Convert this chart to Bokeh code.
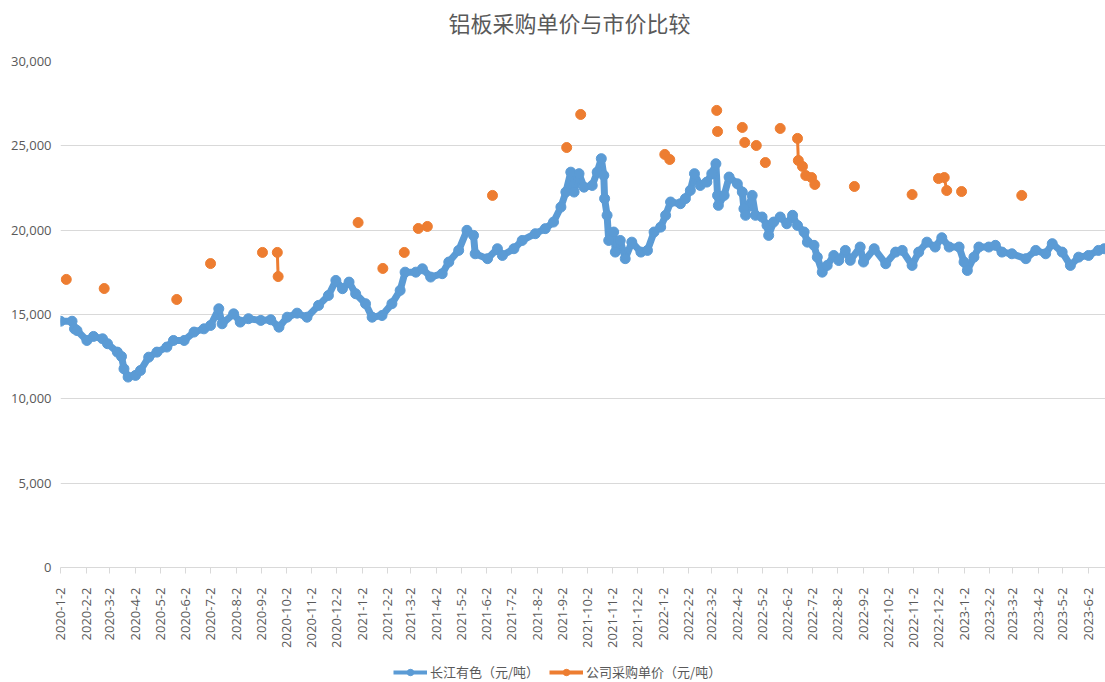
import math
import pandas as pd
from bokeh.plotting import figure
from bokeh.layouts import column
from bokeh.models import (FixedTicker, CustomJSTickFormatter, NumeralTickFormatter,
                          Legend, LegendItem, Range1d, ColumnDataSource, Label)
from bokeh.embed import file_html
from bokeh.resources import INLINE

title_text = "铝板采购单价与市价比较"
blue_name = "长江有色（元/吨）"
orange_name = "公司采购单价（元/吨）"

blue_dates = [
    "2020-01-02", "2020-01-16", "2020-01-19", "2020-01-22", "2020-02-03", "2020-02-11",
    "2020-02-22", "2020-02-28", "2020-03-11", "2020-03-16", "2020-03-19", "2020-03-24",
    "2020-04-02", "2020-04-08", "2020-04-18", "2020-04-28", "2020-05-10", "2020-05-18",
    "2020-05-31", "2020-06-12", "2020-06-24", "2020-07-02", "2020-07-12", "2020-07-16",
    "2020-07-30", "2020-08-07", "2020-08-17", "2020-09-01", "2020-09-13", "2020-09-23",
    "2020-10-03", "2020-10-15", "2020-10-27", "2020-11-10", "2020-11-22", "2020-12-01",
    "2020-12-09", "2020-12-17", "2020-12-25", "2021-01-06", "2021-01-14", "2021-01-26",
    "2021-02-07", "2021-02-17", "2021-02-23", "2021-03-08", "2021-03-16", "2021-03-26",
    "2021-04-09", "2021-04-17", "2021-04-29", "2021-05-09", "2021-05-17", "2021-05-19",
    "2021-06-03", "2021-06-15", "2021-06-21", "2021-07-05", "2021-07-15", "2021-07-31",
    "2021-08-12", "2021-08-22", "2021-08-31", "2021-09-06", "2021-09-12", "2021-09-16",
    "2021-09-22", "2021-09-28", "2021-10-08", "2021-10-14", "2021-10-19", "2021-10-22",
    "2021-10-23", "2021-10-26", "2021-10-28", "2021-11-03", "2021-11-05", "2021-11-11",
    "2021-11-17", "2021-11-25", "2021-12-06", "2021-12-14", "2021-12-22", "2021-12-30",
    "2022-01-05", "2022-01-11", "2022-01-23", "2022-01-29", "2022-02-04", "2022-02-09",
    "2022-02-16", "2022-02-24", "2022-03-02", "2022-03-07", "2022-03-09", "2022-03-10",
    "2022-03-17", "2022-03-23", "2022-04-02", "2022-04-08", "2022-04-10", "2022-04-12",
    "2022-04-20", "2022-04-24", "2022-05-02", "2022-05-08", "2022-05-10", "2022-05-16",
    "2022-05-24", "2022-06-01", "2022-06-08", "2022-06-14", "2022-06-22", "2022-06-26",
    "2022-07-04", "2022-07-08", "2022-07-14", "2022-07-20", "2022-07-28", "2022-08-03",
    "2022-08-11", "2022-08-17", "2022-08-29", "2022-09-02", "2022-09-15", "2022-09-29",
    "2022-10-11", "2022-10-19", "2022-10-31", "2022-11-08", "2022-11-18", "2022-11-28",
    "2022-12-06", "2022-12-15", "2022-12-27", "2023-01-02", "2023-01-06", "2023-01-14",
    "2023-01-20", "2023-02-01", "2023-02-09", "2023-02-17", "2023-03-01", "2023-03-18",
    "2023-03-30", "2023-04-11", "2023-04-19", "2023-05-01", "2023-05-11", "2023-05-21",
    "2023-06-02", "2023-06-14", "2023-06-21",
]
blue_values = [
    14600, 14600, 14150, 14050, 13460, 13700,
    13560, 13270, 12770, 12510, 11780, 11290,
    11390, 11680, 12470, 12770, 13070, 13460,
    13460, 13960, 14150, 14350, 15340, 14450,
    15040, 14550, 14750, 14650, 14690, 14250,
    14840, 15080, 14840, 15540, 16130, 17020,
    16530, 16920, 16230, 15640, 14840, 14940,
    15640, 16430, 17510, 17510, 17710, 17220,
    17420, 18110, 18800, 19990, 19690, 18600,
    18310, 18900, 18500, 18900, 19390, 19790,
    20090, 20480, 21370, 22260, 23440, 22260,
    23350, 22550, 22650, 23440, 24240, 23250,
    21870, 20880, 19390, 19890, 18700, 19390,
    18310, 19290, 18700, 18800, 19890, 20180,
    20880, 21670, 21570, 21870, 22360, 23350,
    22650, 22850, 23350, 23940, 22060, 21470,
    22060, 23150, 22750, 22260, 21270, 20880,
    22060, 20880, 20780, 20280, 19690, 20480,
    20780, 20380, 20880, 20280, 19890, 19290,
    19100, 18400, 17510, 17910, 18500, 18200,
    18800, 18210, 19000, 18110, 18900, 18010,
    18700, 18800, 17910, 18700, 19290, 19000,
    19550, 19000, 19000, 18110, 17610, 18400,
    19000, 19000, 19100, 18700, 18600, 18310,
    18800, 18600, 19200, 18700, 17910, 18400,
    18500, 18800, 18900,
]

orange_dates = [
    "2020-01-09", "2020-02-24", "2020-05-22", "2020-07-02", "2020-09-03", "2020-09-21",
    "2020-09-22", "2020-12-28", "2021-01-27", "2021-02-22", "2021-03-11", "2021-03-22",
    "2021-06-09", "2021-09-07", "2021-09-24", "2022-01-04", "2022-01-10", "2022-03-08",
    "2022-03-09", "2022-04-08", "2022-04-11", "2022-04-25", "2022-05-06", "2022-05-24",
    "2022-06-14", "2022-06-15", "2022-06-20", "2022-06-24", "2022-07-01", "2022-07-05",
    "2022-08-22", "2022-10-31", "2022-12-02", "2022-12-09", "2022-12-12", "2022-12-30",
    "2023-03-13",
]
orange_values = [
    17080, 16540, 15890, 18020, 18680, 18680,
    17250, 20450, 17730, 18680, 20100, 20220,
    22060, 24900, 26860, 24490, 24190, 27100,
    25850, 26090, 25200, 25020, 24010, 26030,
    25440, 24130, 23780, 23240, 23120, 22710,
    22590, 22110, 23060, 23120, 22350, 22290,
    22060,
]
# points sharing a group number were entered on consecutive rows and are joined
orange_groups = [
    0, 1, 2, 3, 4, 5,
    5, 6, 7, 8, 9, 10,
    11, 12, 13, 14, 15, 16,
    17, 18, 19, 20, 21, 22,
    23, 23, 24, 25, 26, 27,
    28, 29, 30, 31, 31, 32,
    33,
]

x_tick_labels = [
    "2020-1-2", "2020-2-2", "2020-3-2", "2020-4-2", "2020-5-2", "2020-6-2", "2020-7-2",
    "2020-8-2", "2020-9-2", "2020-10-2", "2020-11-2", "2020-12-2",
    "2021-1-2", "2021-2-2", "2021-3-2", "2021-4-2", "2021-5-2", "2021-6-2", "2021-7-2",
    "2021-8-2", "2021-9-2", "2021-10-2", "2021-11-2", "2021-12-2",
    "2022-1-2", "2022-2-2", "2022-3-2", "2022-4-2", "2022-5-2", "2022-6-2", "2022-7-2",
    "2022-8-2", "2022-9-2", "2022-10-2", "2022-11-2", "2022-12-2",
    "2023-1-2", "2023-2-2", "2023-3-2", "2023-4-2", "2023-5-2", "2023-6-2",
]
y_ticks = [0, 5000, 10000, 15000, 20000, 25000, 30000]
x_start, x_end = "2020-01-02 00:00", "2023-06-22 14:00"

BLUE = "#5B9BD5"
ORANGE = "#ED7D31"
TXT = "#595959"
GRID = "#D9D9D9"


def to_ms(dates):
    d = pd.to_datetime(pd.Series(dates))
    return ((d - pd.Timestamp("1970-01-01")) / pd.Timedelta(milliseconds=1)).astype(float).tolist()


bx = to_ms(blue_dates)
ox = to_ms(orange_dates)
tick_ms = to_ms(x_tick_labels)

W = 1105
LEFT = 60
FRAME_W = W - LEFT

# ---- title strip -------------------------------------------------------
tf = figure(width=W, height=40, output_backend="svg", toolbar_location=None,
            min_border_left=LEFT, min_border_right=0, min_border_top=0, min_border_bottom=0,
            x_range=Range1d(0, FRAME_W), y_range=Range1d(0, 40),
            x_axis_location=None, y_axis_location=None)
tf.outline_line_color = None
tf.grid.visible = False
tf.add_layout(Label(x=388, y=19, text=title_text, text_align="left", text_baseline="middle",
                    text_font="Noto Sans CJK SC", text_font_size="22px", text_color=TXT))

# ---- main chart --------------------------------------------------------
p = figure(width=W, height=622, x_axis_type="datetime", output_backend="svg",
           toolbar_location=None, min_border_left=LEFT, min_border_right=0,
           min_border_top=21, min_border_bottom=95,
           x_range=Range1d(to_ms([x_start])[0], to_ms([x_end])[0]),
           y_range=Range1d(0, 30000))
p.outline_line_color = None
p.background_fill_color = "white"

xa = p.xaxis[0]
xa.ticker = FixedTicker(ticks=tick_ms)
xa.formatter = CustomJSTickFormatter(code="""
const d = new Date(tick);
return d.getUTCFullYear() + '-' + (d.getUTCMonth() + 1) + '-' + d.getUTCDate();
""")
xa.major_label_orientation = math.pi / 2
xa.major_label_text_font = "Open Sans"
xa.major_label_text_font_size = "13px"
xa.major_label_text_color = TXT
xa.axis_line_color = GRID
xa.major_tick_line_color = GRID
xa.major_tick_out = 6
xa.major_tick_in = 0
xa.minor_tick_line_color = None
xa.major_label_standoff = 14

ya = p.yaxis[0]
ya.ticker = FixedTicker(ticks=y_ticks)
ya.formatter = NumeralTickFormatter(format="0,0")
ya.axis_line_color = None
ya.major_tick_line_color = None
ya.minor_tick_line_color = None
ya.major_tick_out = 0
ya.major_tick_in = 0
ya.major_label_standoff = 9
ya.major_label_text_font = "Open Sans"
ya.major_label_text_font_size = "13px"
ya.major_label_text_color = TXT

p.xgrid.visible = False
p.ygrid.ticker = FixedTicker(ticks=y_ticks)
p.ygrid.grid_line_color = GRID
p.ygrid.grid_line_width = 1

# blue series
bsrc = ColumnDataSource(dict(x=bx, y=blue_values))
p.line("x", "y", source=bsrc, line_width=7, line_color=BLUE, line_join="round", line_cap="round")
p.line("x", "y", source=bsrc, line_width=3, line_color=BLUE, line_join="round")
p.scatter("x", "y", source=bsrc, marker="circle", size=10, fill_color=BLUE, line_color=BLUE)

# orange series
groups = {}
for xv, yv, g in zip(ox, orange_values, orange_groups):
    groups.setdefault(g, ([], []))
    groups[g][0].append(xv)
    groups[g][1].append(yv)
p.multi_line([v[0] for v in groups.values()], [v[1] for v in groups.values()],
             line_width=3, line_color=ORANGE)
osrc = ColumnDataSource(dict(x=ox, y=orange_values))
p.scatter("x", "y", source=osrc, marker="circle", size=10, fill_color=ORANGE, line_color=ORANGE)

# ---- legend strip (sample glyphs sit outside the strip's visible range) --
lf = figure(width=W, height=20, output_backend="svg", toolbar_location=None,
            min_border_left=LEFT, min_border_right=0, min_border_top=0, min_border_bottom=0,
            x_range=Range1d(0, 1), y_range=Range1d(0, 1),
            x_axis_location=None, y_axis_location=None)
lf.outline_line_color = None
lf.grid.visible = False
off = ColumnDataSource(dict(x=[-5, -4], y=[-5, -5]))
lbl = lf.line("x", "y", source=off, line_width=4, line_color=BLUE)
lbs = lf.scatter("x", "y", source=off, marker="circle", size=9, fill_color=BLUE, line_color=BLUE)
lol = lf.line("x", "y", source=off, line_width=4, line_color=ORANGE)
los = lf.scatter("x", "y", source=off, marker="circle", size=9, fill_color=ORANGE, line_color=ORANGE)

legend = Legend(items=[LegendItem(label=blue_name, renderers=[lbl, lbs]),
                       LegendItem(label=orange_name, renderers=[lol, los])],
                orientation="horizontal", location=(333, 1))
legend.label_text_font = "Noto Sans CJK SC"
legend.label_text_font_size = "13px"
legend.label_text_color = TXT
legend.glyph_width = 34
legend.glyph_height = 16
legend.label_height = 16
legend.label_standoff = 3
legend.spacing = 10
legend.padding = 0
legend.margin = 0
legend.border_line_color = None
legend.background_fill_alpha = 0
lf.add_layout(legend)

layout = column(tf, p, lf, spacing=0)
open("out.html", "w").write(file_html(layout, INLINE))
